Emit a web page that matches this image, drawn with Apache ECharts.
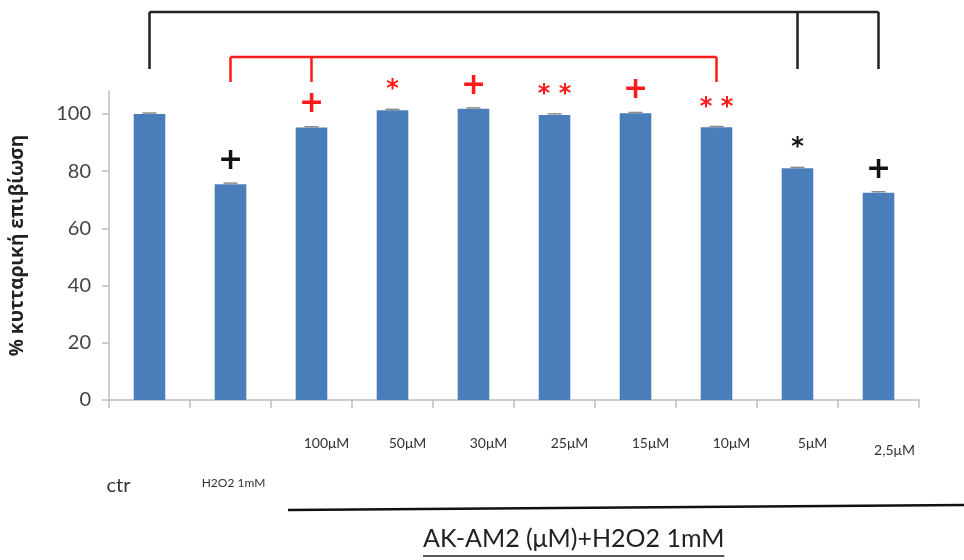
<!DOCTYPE html>
<html>
<head>
<meta charset="utf-8">
<script src="https://cdn.jsdelivr.net/npm/echarts@6/dist/echarts.min.js"></script>
<style>
  html, body { margin: 0; padding: 0; background: #fff; }
  #chart { width: 964px; height: 560px; }
</style>
</head>
<body>
<div id="chart"></div>
<script>
// Chart data
const categories = ['ctr', 'H2O2 1mM', '100μM', '50μM', '30μM', '25μM', '15μM', '10μM', '5μM', '2,5μM'];
const survival = [100, 75.4, 95.2, 101.3, 101.8, 99.6, 100.2, 95.3, 81, 72.4];
const errors = [0.3, 0.4, 0.3, 0.3, 0.3, 0.4, 0.3, 0.3, 0.3, 0.4];
const markers = ['', '+', '+', '*', '+', '**', '+', '**', '*', '+'];
const markerGroup = ['', 'ctr', 'h2o2', 'h2o2', 'h2o2', 'h2o2', 'h2o2', 'h2o2', 'ctr', 'ctr'];
const yTicks = [0, 20, 40, 60, 80, 100];
const blackBracket = ['ctr', '5μM', '2,5μM'];
const redBracket = ['H2O2 1mM', '100μM', '10μM'];

const groupColor = { ctr: '#111', h2o2: '#ff1a1a' };
const BAR = '#4a7ebb';
const AXIS = '#bfbfbf';
const FONT = 'Lato, "Open Sans", sans-serif';

// per-category placement of the x labels (Excel text boxes were staggered)
const labelStyle = {
  'ctr': 'c',
  'H2O2 1mM': 'h',
  '2,5μM': 'l'
};

const chart = echarts.init(document.getElementById('chart'));

const option = {
  animation: false,
  grid: { left: 107, right: 45, top: 91, bottom: 160 },
  xAxis: {
    type: 'category',
    data: categories,
    axisLine: { lineStyle: { color: AXIS, width: 1.5 } },
    axisTick: { show: true, length: 8, lineStyle: { color: AXIS, width: 1.5 } },
    axisLabel: {
      interval: 0,
      hideOverlap: false,
      margin: 36,
      color: '#333',
      fontFamily: FONT,
      formatter: (v) => `{${labelStyle[v] || 'm'}|${v}}`,
      rich: {
        m: { fontSize: 14, fontFamily: FONT, color: '#333', padding: [0, 0, 0, 30] },
        l: { fontSize: 14, fontFamily: FONT, color: '#333', padding: [7, 0, 0, 32] },
        h: { fontSize: 12, fontFamily: FONT, color: '#333', padding: [41, 0, 0, 6] },
        c: { fontSize: 20, fontFamily: FONT, color: '#333', padding: [40, 62, 0, 0] }
      }
    }
  },
  yAxis: {
    type: 'value',
    min: 0,
    max: 108,
    interval: 20,
    name: '% κυτταρική επιβίωση',
    nameLocation: 'middle',
    nameRotate: 90,
    nameGap: 82,
    nameTextStyle: { fontSize: 19, fontWeight: 'bold', color: '#222', fontFamily: '"Open Sans", sans-serif', letterSpacing: 3 },
    axisLine: { show: true, lineStyle: { color: AXIS, width: 1.5 } },
    axisTick: { show: true, length: 7, customValues: yTicks, lineStyle: { color: AXIS, width: 1.5 } },
    axisLabel: { customValues: yTicks, fontSize: 20, color: '#444', fontFamily: FONT, margin: 18 },
    splitLine: { show: false }
  },
  series: [
    {
      type: 'bar',
      barWidth: '39%',
      itemStyle: { color: BAR },
      data: survival.map((v, i) => ({
        value: v,
        label: { color: groupColor[markerGroup[i]] || '#111' }
      })),
      label: {
        show: true,
        position: 'top',
        distance: 10,
        formatter: (p) => {
          const m = markers[p.dataIndex];
          if (!m) return '';
          return m === '+' ? '{p|+}' : `{s|${m.split('').join(' ')}}`;
        },
        rich: {
          p: { fontSize: 30, fontWeight: 'bold', fontFamily: '"DejaVu Sans", sans-serif', lineHeight: 26 },
          s: { fontSize: 24, fontWeight: 'bold', fontFamily: '"DejaVu Sans", sans-serif', lineHeight: 20 }
        }
      },
      z: 2
    },
    {
      type: 'custom',
      z: 3,
      data: categories.map((c, i) => [i, survival[i], errors[i]]),
      renderItem: (params, api) => {
        const i = api.value(0);
        const v = api.value(1);
        const e = api.value(2);
        const hi = api.coord([i, v + e]);
        const lo = api.coord([i, v - e]);
        const half = 7;
        const style = { stroke: '#8c8c8c', lineWidth: 1.5 };
        return {
          type: 'group',
          children: [
            { type: 'line', shape: { x1: hi[0], y1: hi[1], x2: lo[0], y2: lo[1] }, style },
            { type: 'line', shape: { x1: hi[0] - half, y1: hi[1], x2: hi[0] + half, y2: hi[1] }, style }
          ]
        };
      }
    }
  ]
};

chart.setOption(option);

// significance brackets + group label, placed from the category positions
const px = (name) => chart.convertToPixel({ xAxisIndex: 0 }, name);
const bracket = (names, yTop, yLeg, color) => {
  const xs = names.map(px);
  const lines = [
    { x1: xs[0], y1: yTop, x2: xs[xs.length - 1], y2: yTop }
  ];
  xs.forEach((x) => lines.push({ x1: x, y1: yTop, x2: x, y2: yLeg }));
  return lines.map((shape) => ({
    type: 'line',
    shape,
    style: { stroke: color, lineWidth: 2.5 }
  }));
};

const groupTitle = 'AK-AM2 (μM)+H2O2 1mM';
const titleFont = '25px Lato, "Open Sans", sans-serif';
const ctx = document.createElement('canvas').getContext('2d');
ctx.font = titleFont;
const titleW = ctx.measureText(groupTitle).width;
const titleX = 423;

chart.setOption({
  graphic: [
    ...bracket(blackBracket, 12, 69, '#222'),
    ...bracket(redBracket, 57, 82, '#ff1a1a'),
    {
      type: 'line',
      shape: { x1: 288, y1: 510, x2: 964, y2: 505 },
      style: { stroke: '#111', lineWidth: 2.5 }
    },
    {
      type: 'text',
      left: titleX,
      top: 526,
      style: { text: groupTitle, font: titleFont, fill: '#222' }
    },
    {
      type: 'line',
      shape: { x1: titleX, y1: 556, x2: titleX + titleW, y2: 556 },
      style: { stroke: '#222', lineWidth: 1.5 }
    }
  ]
});
</script>
</body>
</html>
